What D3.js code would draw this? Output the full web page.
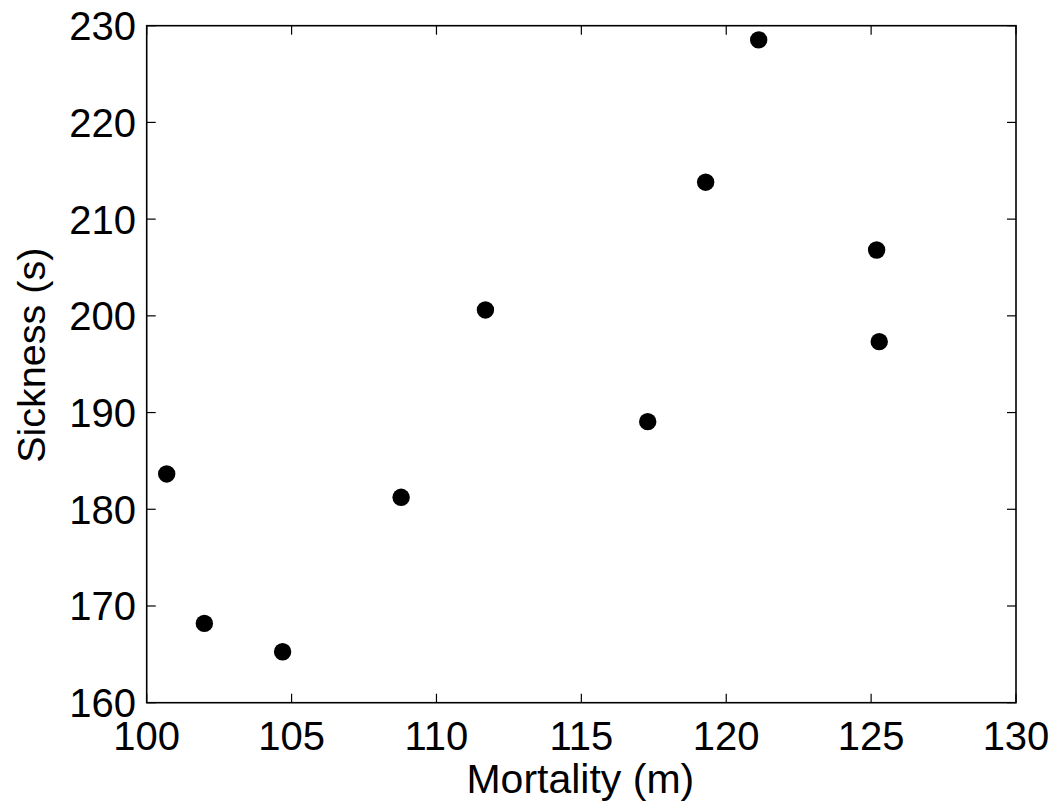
<!DOCTYPE html>
<html>
<head>
<meta charset="utf-8">
<script src="https://cdn.jsdelivr.net/npm/d3@7"></script>
<style>
  body { margin: 0; background: #fff; }
  svg text { font-family: "Liberation Sans", Arial, Helvetica, sans-serif; fill: #000; }
</style>
</head>
<body>
<svg id="chart" width="1057" height="808"></svg>
<script>
// data
var mortality = [100.69, 101.99, 104.69, 108.78, 111.69, 117.29, 119.29, 121.12, 125.19, 125.28];
var sickness  = [183.65, 168.2, 165.27, 181.24, 200.61, 189.06, 213.82, 228.53, 206.81, 197.33];
var xTicks = [100, 105, 110, 115, 120, 125, 130];
var yTicks = [160, 170, 180, 190, 200, 210, 220, 230];
var xLabel = 'Mortality (m)';
var yLabel = 'Sickness (s)';

var svg = d3.select('#chart');
var plotL = 146.7, plotR = 1016, plotT = 25.7, plotB = 702.7;
var tickLen = 9;

var x = d3.scaleLinear().domain([100, 130]).range([plotL, plotR]);
var y = d3.scaleLinear().domain([160, 230]).range([plotB, plotT]);

//-----------------------------------------------------------------------------
// box
svg.append('rect')
    .attr('x', plotL).attr('y', plotT)
    .attr('width', plotR - plotL).attr('height', plotB - plotT)
    .attr('fill', 'none').attr('stroke', '#000').attr('stroke-width', 1.6);

// inward ticks on all four sides
var tickG = svg.append('g').attr('stroke', '#000').attr('stroke-width', 1.2);
xTicks.forEach(function(t) {
    tickG.append('line').attr('x1', x(t)).attr('x2', x(t)).attr('y1', plotB).attr('y2', plotB - tickLen);
    tickG.append('line').attr('x1', x(t)).attr('x2', x(t)).attr('y1', plotT).attr('y2', plotT + tickLen);
});
yTicks.forEach(function(t) {
    tickG.append('line').attr('x1', plotL).attr('x2', plotL + tickLen).attr('y1', y(t)).attr('y2', y(t));
    tickG.append('line').attr('x1', plotR).attr('x2', plotR - tickLen).attr('y1', y(t)).attr('y2', y(t));
});

// tick labels
svg.selectAll('.xtick')
    .data(xTicks)
    .enter().append('text')
    .attr('class', 'xtick')
    .attr('x', function(d) { return x(d); })
    .attr('y', 750)
    .attr('text-anchor', 'middle')
    .style('font-size', '40px')
    .text(function(d) { return d; });

svg.selectAll('.ytick')
    .data(yTicks)
    .enter().append('text')
    .attr('class', 'ytick')
    .attr('x', 136)
    .attr('y', function(d) { return y(d); })
    .attr('dy', '0.36em')
    .attr('text-anchor', 'end')
    .style('font-size', '40px')
    .text(function(d) { return d; });

// axis titles
svg.append('text')
    .attr('x', (plotL + plotR) / 2 - 1)
    .attr('y', 793)
    .attr('text-anchor', 'middle')
    .style('font-size', '41px')
    .text(xLabel);

svg.append('text')
    .attr('transform', 'translate(45,' + ((plotT + plotB) / 2 - 9) + ') rotate(-90)')
    .attr('text-anchor', 'middle')
    .style('font-size', '39.5px')
    .text(yLabel);

//-----------------------------------------------------------------------------
// points
svg.selectAll('.pt')
    .data(d3.zip(mortality, sickness))
    .enter().append('circle')
    .attr('class', 'pt')
    .attr('cx', function(d) { return x(d[0]); })
    .attr('cy', function(d) { return y(d[1]); })
    .attr('r', 8.7)
    .attr('fill', '#000');
</script>
</body>
</html>
